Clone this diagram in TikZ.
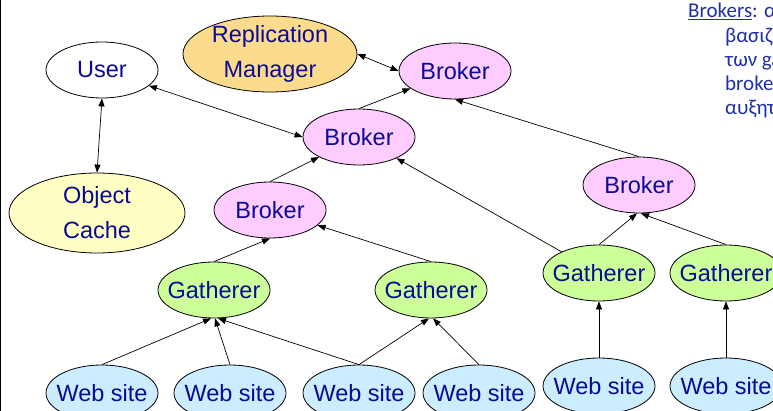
\documentclass[tikz,border=0pt]{standalone}
\usepackage{fontspec}
\setmainfont{Liberation Sans}
\newfontfamily\notefont{Carlito}
\usetikzlibrary{shapes.geometric,arrows.meta}
\definecolor{txtblue}{HTML}{0A0A96}
\definecolor{noteblue}{HTML}{1F2FA8}
\definecolor{rmfill}{HTML}{FCDC8C}
\definecolor{cachefill}{HTML}{FFFFC4}
\definecolor{brokerfill}{HTML}{FFCCFF}
\definecolor{gathfill}{HTML}{CCFF99}
\definecolor{webfill}{HTML}{CCECFF}
\begin{document}
\begin{tikzpicture}[x=1pt,y=-1pt,
  box/.style={ellipse, draw=black, line width=0.8pt, minimum width=112pt, minimum height=56pt, inner sep=0pt},
  lbl/.style={text=txtblue, font=\fontsize{23.5}{35}\selectfont, align=center, inner sep=0pt},
  broker/.style={box, fill=brokerfill, label={[lbl]center:Broker}},
  gatherer/.style={box, fill=gathfill, label={[lbl]center:Gatherer}},
  website/.style={box, fill=webfill, label={[lbl]center:Web site}},
  conn/.style={line width=0.7pt, -{Triangle[length=8pt,width=6pt]}},
  both/.style={line width=0.7pt, {Triangle[length=8pt,width=6pt]}-{Triangle[length=8pt,width=6pt]}},
  note/.style={text=noteblue, font=\notefont\fontsize{21}{25}\selectfont, anchor=base west, inner sep=0pt}
]
\useasboundingbox (0,0) rectangle (773,411);
\clip (0,0) rectangle (773,411);
\fill[white] (0,0) rectangle (773,411);

% left border
\coordinate (bordertop) at (0.7,0);
\coordinate (borderbot) at (0.7,411);
\draw[line width=1.4pt] (bordertop) -- (borderbot);

% nodes
\node[box, fill=rmfill, minimum width=174pt, minimum height=76pt, label={[lbl]center:Replication\\Manager}] (rm) at (270,54) {};
\node[box, fill=white, label={[lbl]center:User}] (user) at (102,70) {};
\node[box, fill=cachefill, minimum width=176pt, minimum height=80pt, label={[lbl]center:Object\\Cache}] (cache) at (97,213) {};
\node[broker] (bt) at (455,71) {};
\node[broker] (bm) at (359,137) {};
\node[broker] (bl) at (270,210) {};
\node[broker] (br) at (639,185) {};
\node[gatherer] (gl) at (214,290) {};
\node[gatherer] (gm) at (431,290) {};
\node[gatherer] (gr1) at (599,273) {};
\node[gatherer] (gr2) at (726,273) {};
\node[website] (ws1) at (102,393) {};
\node[website] (ws2) at (230,393) {};
\node[website] (ws3) at (359,393) {};
\node[website] (ws4) at (479,393) {};
\node[website] (ws5) at (599,386) {};
\node[website] (ws6) at (726,386) {};

% connectors
\draw[both] (user.south) -- (cache.north);
\draw[both] (rm.east) -- (bt.west);
\draw[both] (user) -- (bm.west);
\draw[conn] (bm.north) -- (bt);
\draw[conn] (br.north) -- (bt.south);
\draw[conn] (bl.north) -- (bm);
\draw[conn] (gr1) -- (bm);
\draw[conn] (gl.north) -- (bl.south);
\draw[conn] (gm.north) -- (bl);
\draw[conn] (gr1.north) -- ([xshift=-2pt]br.south);
\draw[conn] (gr2.north) -- ([xshift=2pt]br.south);
\draw[conn] (ws1.north) -- ([xshift=-3pt]gl.south);
\draw[conn] (ws2.north) -- ([xshift=1pt]gl.south);
\draw[conn] (ws3.north) -- ([xshift=4pt]gl.south);
\draw[conn] (ws3.north) -- ([xshift=-2pt]gm.south);
\draw[conn] (ws4.north) -- ([xshift=2pt]gm.south);
\draw[conn] (ws5.north) -- (gr1.south);
\draw[conn] (ws6.north) -- (gr2.south);

% note text (cut at the right edge)
\node[note] (n1) at (688,18) {\underline{Brokers}: α};
\node[note] (n2) at (725,43) {βασιζ};
\node[note] (n3) at (725,67) {των ga};
\node[note] (n4) at (725,91) {broke};
\node[note] (n5) at (725,115) {αυξητ};
\end{tikzpicture}
\end{document}
